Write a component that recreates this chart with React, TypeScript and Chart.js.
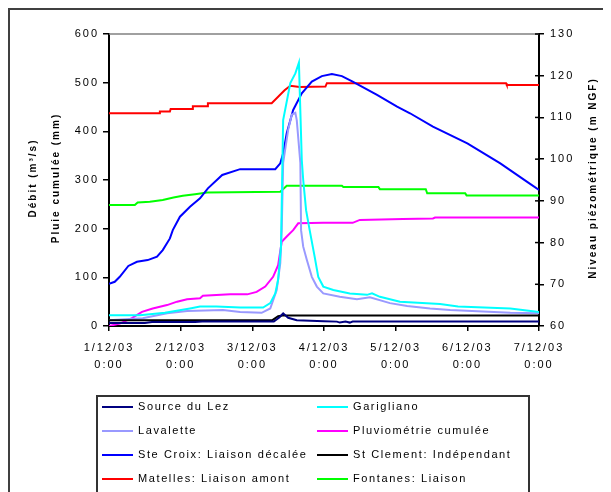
import React, { useEffect, useRef } from "react";
import { Chart, registerables } from "chart.js";

Chart.register(...registerables);

// Canvas size (page area right of / below the 8px body margin)
const W = 603;
const H = 484;

// X axis: days since 1/12/03 0:00
const dayLabels = ["1/12/03", "2/12/03", "3/12/03", "4/12/03", "5/12/03", "6/12/03", "7/12/03"];
const hourLabel = "0:00";

// Flow (m3/s) and cumulated rainfall (mm) — left axis
const sourceDuLez: [number, number][] = [
  [0, 6], [0.5, 6], [0.6, 8], [1.2, 8], [1.3, 9], [2.3, 9], [2.38, 18], [2.43, 26],
  [2.5, 17], [2.62, 12], [3.0, 10], [3.18, 9], [3.22, 7], [3.3, 9], [3.36, 7], [3.4, 9], [6, 9],
];
const stClement: [number, number][] = [
  [0, 12], [2.28, 12], [2.36, 20], [2.42, 21.5], [6, 21.5],
];
const garigliano: [number, number][] = [
  [0, 22], [0.43, 22], [0.78, 27], [1.13, 36], [1.27, 40], [1.5, 40], [1.83, 38], [2.15, 38],
  [2.25, 47], [2.32, 67], [2.36, 95], [2.4, 163], [2.43, 423], [2.53, 499], [2.6, 519],
  [2.65, 541], [2.69, 341], [2.71, 300], [2.75, 238], [2.8, 197], [2.87, 142], [2.92, 101],
  [2.99, 81], [3.13, 74], [3.36, 67], [3.6, 64], [3.67, 67], [3.78, 60], [4.06, 50],
  [4.62, 45], [4.87, 40], [5.6, 36], [6, 29],
];
const lavalette: [number, number][] = [
  [0, 12], [0.47, 16], [0.81, 26], [1.09, 31], [1.59, 33], [1.83, 29], [2.13, 27], [2.25, 36],
  [2.34, 74], [2.39, 129], [2.41, 197], [2.43, 335], [2.5, 403], [2.55, 434], [2.6, 438],
  [2.62, 423], [2.67, 335], [2.68, 197], [2.71, 163], [2.76, 136], [2.83, 101], [2.9, 81],
  [2.99, 67], [3.22, 60], [3.46, 55], [3.64, 59], [3.92, 47], [4.16, 41], [4.48, 36],
  [4.76, 33], [5.6, 27], [6, 26],
];
const pluviometrie: [number, number][] = [
  [0, 0], [0.15, 5], [0.32, 16], [0.46, 29], [0.61, 36], [0.81, 43], [0.95, 50], [1.09, 55],
  [1.27, 57], [1.31, 62], [1.69, 65], [1.93, 65], [2.06, 70], [2.18, 81], [2.29, 101],
  [2.36, 125], [2.41, 173], [2.48, 184], [2.57, 197], [2.64, 211], [2.99, 212], [3.4, 212],
  [3.5, 218], [4.1, 220], [4.52, 221], [4.55, 223], [6, 223],
];

// Piezometric levels (m NGF) — right axis
const steCroix: [number, number][] = [
  [0, 70.1], [0.08, 70.6], [0.15, 71.8], [0.27, 74.4], [0.39, 75.4], [0.54, 75.8], [0.67, 76.6],
  [0.75, 78.2], [0.85, 81.0], [0.89, 83.0], [0.99, 86.2], [1.13, 88.6], [1.27, 90.6],
  [1.38, 93.0], [1.58, 96.2], [1.83, 97.6], [2.32, 97.6], [2.39, 99.0], [2.43, 101.4],
  [2.48, 106.2], [2.57, 111.8], [2.69, 115.8], [2.83, 118.6], [2.97, 119.9], [3.11, 120.4],
  [3.25, 119.9], [3.4, 118.6], [3.74, 115.4], [4.02, 112.6], [4.2, 111.0], [4.52, 107.8],
  [5.0, 103.8], [5.46, 99.0], [5.83, 94.6], [6, 92.6],
];
const matelles: [number, number][] = [
  [0, 111.0], [0.7, 111.0], [0.71, 111.4], [0.85, 111.4], [0.86, 112.0], [1.16, 112.0],
  [1.17, 112.7], [1.37, 112.7], [1.38, 113.4], [2.27, 113.4], [2.45, 116.5], [2.53, 117.6],
  [2.66, 117.3], [3.02, 117.4], [3.04, 118.2], [5.54, 118.2], [5.55, 117.8], [6, 117.8],
];
const fontanes: [number, number][] = [
  [0, 89.0], [0.36, 89.0], [0.4, 89.6], [0.57, 89.8], [0.75, 90.2], [0.9, 90.8], [1.03, 91.2],
  [1.2, 91.6], [1.37, 92.0], [2.39, 92.2], [2.48, 93.6], [3.25, 93.6], [3.27, 93.3],
  [3.76, 93.3], [3.78, 92.8], [4.42, 92.8], [4.44, 91.8], [4.97, 91.8], [4.99, 91.3], [6, 91.3],
];

const FONT = "'Liberation Sans', Arial, sans-serif";

export default function App() {
  const ref = useRef<HTMLCanvasElement>(null);

  useEffect(() => {
    const canvas = ref.current;
    if (!canvas) return;

    const series = [
      { label: "Source du Lez", data: sourceDuLez, color: "#000080", axis: "y" },
      { label: "St Clement: Indépendant", data: stClement, color: "#000000", axis: "y" },
      { label: "Garigliano", data: garigliano, color: "#00FFFF", axis: "y" },
      { label: "Lavalette", data: lavalette, color: "#9999FF", axis: "y" },
      { label: "Pluviométrie cumulée", data: pluviometrie, color: "#FF00FF", axis: "y" },
      { label: "Ste Croix: Liaison décalée", data: steCroix, color: "#0000FF", axis: "y1" },
      { label: "Matelles: Liaison amont", data: matelles, color: "#FF0000", axis: "y1" },
      { label: "Fontanes: Liaison", data: fontanes, color: "#00FF00", axis: "y1" },
    ];

    // legend layout: two columns, row-major
    const legendOrder = [
      "Source du Lez", "Garigliano",
      "Lavalette", "Pluviométrie cumulée",
      "Ste Croix: Liaison décalée", "St Clement: Indépendant",
      "Matelles: Liaison amont", "Fontanes: Liaison",
    ];

    const spacing = {
      id: "spacing",
      beforeDraw(chart: any) {
        chart.ctx.letterSpacing = "2px";
      },
    };

    const decorations = {
      id: "decorations",
      afterDraw(chart: any) {
        const ctx: CanvasRenderingContext2D = chart.ctx;
        const a = chart.chartArea;
        ctx.save();

        // outer frame (left and top edges)
        ctx.strokeStyle = "#404040";
        ctx.lineWidth = 2;
        ctx.beginPath();
        ctx.moveTo(1, H);
        ctx.lineTo(1, 1);
        ctx.lineTo(W, 1);
        ctx.stroke();

        // plot area top border
        ctx.strokeStyle = "#808080";
        ctx.lineWidth = 1.5;
        ctx.beginPath();
        ctx.moveTo(a.left, a.top);
        ctx.lineTo(a.right, a.top);
        ctx.stroke();

        // inner half of the right-axis tick marks
        const y1 = chart.scales.y1;
        ctx.strokeStyle = "#000";
        ctx.lineWidth = 1.5;
        y1.ticks.forEach((t: any) => {
          const py = y1.getPixelForValue(t.value);
          ctx.beginPath();
          ctx.moveTo(a.right - 4, py);
          ctx.lineTo(a.right, py);
          ctx.stroke();
        });

        // axis titles
        ctx.fillStyle = "#000";
        ctx.font = `bold 10px ${FONT}`;
        ctx.letterSpacing = "2px";
        ctx.textAlign = "center";
        ctx.textBaseline = "middle";
        const midY = (a.top + a.bottom) / 2 - 2;
        const vText = (x: number, text: string) => {
          ctx.save();
          ctx.translate(x, midY);
          ctx.rotate(-Math.PI / 2);
          ctx.fillText(text, 0, 0);
          ctx.restore();
        };
        vText(25, "Débit (m³/s)");
        vText(48, "Pluie cumulée (mm)");
        vText(585, "Niveau piézométrique (m NGF)");

        // legend box
        ctx.strokeStyle = "#333";
        ctx.lineWidth = 2;
        ctx.strokeRect(89, 388, 432, 200);
        ctx.font = `11px ${FONT}`;
        ctx.letterSpacing = "1.6px";
        ctx.textAlign = "left";
        legendOrder.forEach((name, i) => {
          const ds = chart.data.datasets.find((d: any) => d.label === name);
          const col = i % 2;
          const row = Math.floor(i / 2);
          const y = 399 + row * 24;
          const x0 = col === 0 ? 94 : 309;
          ctx.strokeStyle = ds.borderColor;
          ctx.lineWidth = 2;
          ctx.beginPath();
          ctx.moveTo(x0, y);
          ctx.lineTo(x0 + 31, y);
          ctx.stroke();
          ctx.fillStyle = "#000";
          ctx.fillText(name, x0 + 36, y);
        });

        ctx.restore();
      },
    };

    const tickFont = { family: FONT, size: 11 };

    const chart = new Chart(canvas, {
      type: "line",
      data: {
        datasets: series.map((s) => ({
          label: s.label,
          data: s.data.map(([x, y]) => ({ x, y })),
          borderColor: s.color,
          backgroundColor: s.color,
          yAxisID: s.axis,
          borderWidth: 2,
          pointRadius: 0,
          tension: 0,
          fill: false,
        })),
      },
      options: {
        animation: false,
        responsive: false,
        maintainAspectRatio: false,
        layout: { padding: { top: 26, left: 0, right: 0, bottom: 0 } },
        plugins: { legend: { display: false }, tooltip: { enabled: false } },
        scales: {
          x: {
            type: "linear",
            min: 0,
            max: 6,
            afterFit: (s: any) => {
              s.height = H - 318;
            },
            grid: { drawOnChartArea: false, drawTicks: true, tickLength: 5, color: "#000", lineWidth: 1.5 },
            border: { color: "#000", width: 2 },
            ticks: {
              stepSize: 1,
              autoSkip: false,
              maxRotation: 0,
              color: "#000",
              padding: 8,
              font: { ...tickFont, lineHeight: "17px" },
              callback: (v: any) => [dayLabels[Math.round(v)], hourLabel],
            },
          },
          y: {
            position: "left",
            min: 0,
            max: 600,
            afterFit: (s: any) => {
              s.width = 101;
            },
            grid: { drawOnChartArea: false, drawTicks: true, tickLength: 6, color: "#000", lineWidth: 1.5 },
            border: { color: "#000", width: 2 },
            ticks: { stepSize: 100, color: "#000", padding: 4, font: tickFont },
          },
          y1: {
            position: "right",
            min: 60,
            max: 130,
            afterFit: (s: any) => {
              s.width = W - 531;
            },
            grid: { drawOnChartArea: false, drawTicks: true, tickLength: 5, color: "#000", lineWidth: 1.5 },
            border: { color: "#000", width: 2 },
            ticks: { stepSize: 10, color: "#000", padding: 6, font: tickFont },
          },
        },
      },
      plugins: [spacing, decorations],
    } as any);

    return () => chart.destroy();
  }, []);

  return (
    <div style={{ position: "relative", width: W, height: H }}>
      <canvas ref={ref} width={W} height={H} style={{ display: "block", width: W, height: H }} />
    </div>
  );
}
